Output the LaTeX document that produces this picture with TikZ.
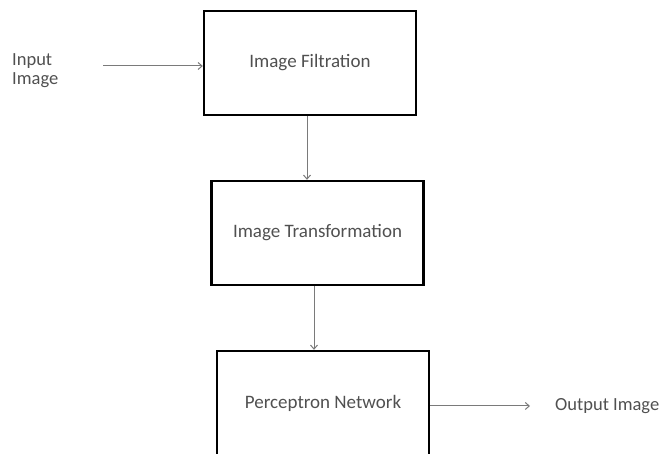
\documentclass[tikz,border=0pt]{standalone}
\usepackage{fontspec}
\setmainfont{Carlito}
\usetikzlibrary{arrows.meta}
\definecolor{txt}{HTML}{505050}
\definecolor{arrc}{HTML}{7A7A7A}
\begin{document}
\begin{tikzpicture}[x=1pt,y=1pt,
  stage/.style={draw=black,line width=2.4pt,minimum width=212pt,minimum height=104pt,inner sep=0pt,
    font=\fontsize{19}{19}\selectfont,text=txt},
  lbl/.style={font=\fontsize{18.5}{19}\selectfont,text=txt,inner sep=0pt},
  arr/.style={draw=arrc,line width=1pt,-{Straight Barb[length=4pt,width=7pt]}}]
\useasboundingbox (0,0) rectangle (662,454);
\clip (0,0) rectangle (662,454);
\node[stage] (f) at (310,391) {Image Filtration};
\node[stage] (t) at (317.5,221) {Image Transformation};
\node[stage] (p) at (323,51) {Perceptron Network};
\node[lbl,anchor=west,align=left] (in) at (12,383.5) {Input\\Image};
\node[lbl,anchor=west] (out) at (555,48) {Output Image};
\coordinate (ins) at (103,388);
\coordinate (oute) at (530,48);
\draw[arr] (ins) -- (ins -| f.west);
\draw[arr] ([xshift=-3pt]f.south) -- ([xshift=-3pt]f.south |- t.north);
\draw[arr] ([xshift=-3.5pt]t.south) -- ([xshift=-3.5pt]t.south |- p.north);
\draw[arr] (oute -| p.east) -- (oute);
\end{tikzpicture}
\end{document}
